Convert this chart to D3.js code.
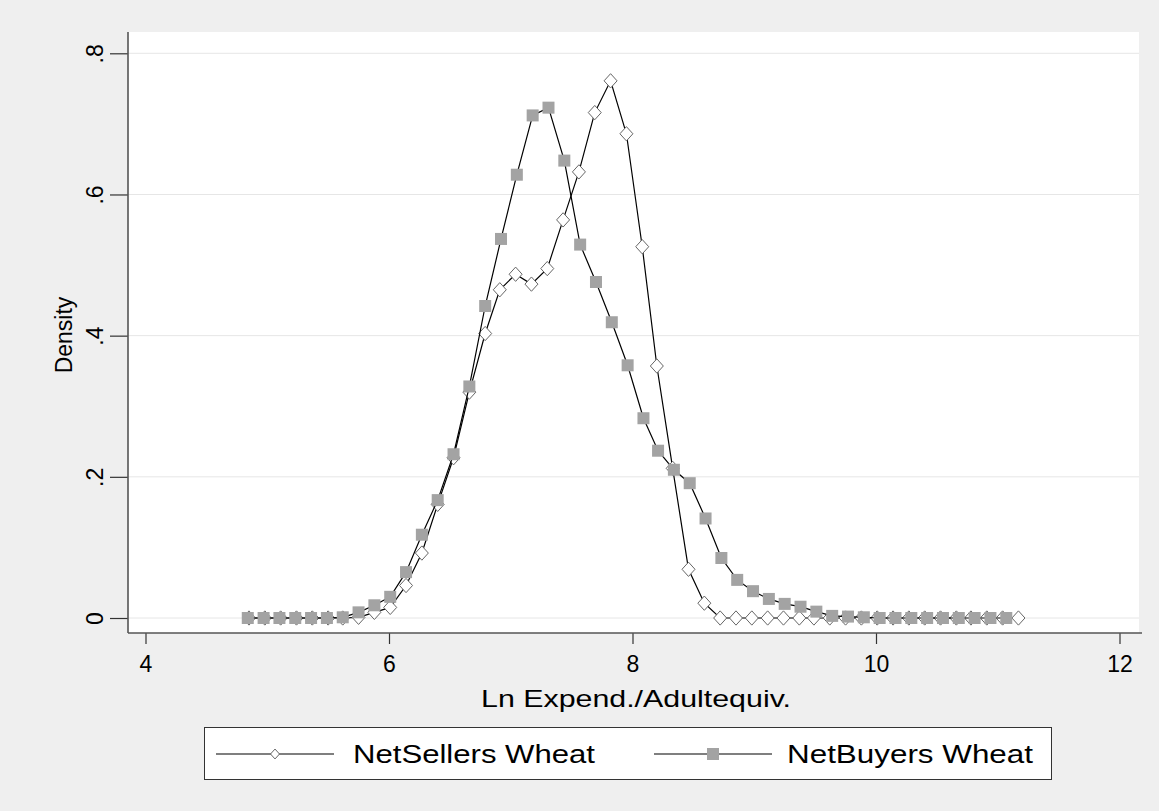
<!DOCTYPE html>
<html><head><meta charset="utf-8">
<script src="https://cdn.jsdelivr.net/npm/d3@7"></script>
<style>html,body{margin:0;padding:0;background:#efefef;}svg{display:block;}</style>
</head><body>
<svg id="chart" width="1159" height="811"></svg>
<script>
const sellersX = [4.85,4.98,5.11,5.24,5.37,5.50,5.62,5.75,5.88,6.01,6.14,6.27,6.40,6.53,6.66,6.79,6.91,7.04,7.17,7.30,7.43,7.56,7.69,7.82,7.95,8.08,8.20,8.33,8.46,8.59,8.72,8.85,8.98,9.11,9.24,9.37,9.49,9.62,9.75,9.88,10.01,10.14,10.27,10.40,10.53,10.66,10.78,10.91,11.04,11.17];
const sellersY = [0,0,0,0,0,0,0,0.001,0.008,0.015,0.046,0.092,0.161,0.227,0.320,0.403,0.465,0.487,0.473,0.495,0.564,0.632,0.716,0.761,0.686,0.526,0.357,0.212,0.069,0.021,0,0,0,0,0,0,0,0,0,0,0,0,0,0,0,0,0,0,0,0];
const buyersX = [4.84,4.97,5.10,5.23,5.36,5.49,5.62,5.75,5.88,6.01,6.14,6.27,6.40,6.53,6.66,6.79,6.92,7.05,7.18,7.31,7.44,7.57,7.70,7.83,7.96,8.09,8.21,8.34,8.47,8.60,8.73,8.86,8.99,9.12,9.25,9.38,9.51,9.64,9.77,9.90,10.03,10.16,10.29,10.42,10.55,10.68,10.81,10.94,11.07];
const buyersY = [0,0,0,0,0,0,0.001,0.008,0.018,0.030,0.065,0.118,0.167,0.232,0.328,0.442,0.537,0.628,0.712,0.723,0.648,0.529,0.476,0.419,0.358,0.283,0.237,0.210,0.191,0.141,0.085,0.054,0.038,0.027,0.020,0.016,0.009,0.003,0.002,0.001,0,0,0,0,0,0,0,0,0];
const xTicks = [4,6,8,10,12];
const yTicks = [0,0.2,0.4,0.6,0.8];
const yTickLabels = ["0",".2",".4",".6",".8"];
const seriesNames = ["NetSellers Wheat","NetBuyers Wheat"];
const xTitle = "Ln Expend./Adultequiv.";
const yTitle = "Density";

const svg = d3.select("#chart");
const W = 1159, H = 811;
svg.append("rect").attr("width", W).attr("height", H).attr("fill", "#efefef");

const plot = {left: 128, top: 32, right: 1139, bottom: 633};
const x = d3.scaleLinear().domain([4, 12]).range([145.5, 1119.5]);
const y = d3.scaleLinear().domain([0, 0.8]).range([618, 53.3]);

svg.append("rect").attr("x", plot.left).attr("y", plot.top)
  .attr("width", plot.right - plot.left).attr("height", plot.bottom - plot.top)
  .attr("fill", "#ffffff");

// gridlines
svg.append("g").selectAll("line").data(yTicks).join("line")
  .attr("x1", plot.left).attr("x2", plot.right)
  .attr("y1", d => y(d)).attr("y2", d => y(d))
  .attr("stroke", "#e6e6e6").attr("stroke-width", 1);

const font = "'Liberation Sans', Arial, sans-serif";

// y axis
const yAxis = d3.axisLeft(y).tickValues(yTicks).tickSize(18).tickFormat((d, i) => yTickLabels[i]);
const gy = svg.append("g").attr("transform", `translate(${plot.left},0)`).call(yAxis);
gy.select(".domain").remove();
gy.selectAll(".tick line").attr("stroke", "#333").attr("stroke-width", 1.2);
gy.selectAll(".tick text")
  .attr("font-family", font).attr("font-size", 23).attr("fill", "#000")
  .attr("text-anchor", "middle").attr("dy", 0).attr("x", 0)
  .attr("transform", "translate(-25,0) rotate(-90)");
svg.append("line").attr("x1", plot.left).attr("x2", plot.left)
  .attr("y1", plot.top).attr("y2", plot.bottom).attr("stroke", "#555").attr("stroke-width", 1.6);

// x axis
const xAxis = d3.axisBottom(x).tickValues(xTicks).tickSize(11).tickFormat(d3.format("d"));
const gx = svg.append("g").attr("transform", `translate(0,${plot.bottom})`).call(xAxis);
gx.select(".domain").remove();
gx.selectAll(".tick line").attr("stroke", "#333").attr("stroke-width", 1.2);
gx.selectAll(".tick text")
  .attr("font-family", font).attr("font-size", 23).attr("fill", "#000")
  .attr("y", 23).attr("dy", "0.71em");
svg.append("line").attr("x1", plot.left).attr("x2", plot.right + 3)
  .attr("y1", plot.bottom).attr("y2", plot.bottom).attr("stroke", "#555").attr("stroke-width", 1.6);

// titles
svg.append("text").attr("x", 636).attr("y", 707).attr("text-anchor", "middle")
  .attr("font-family", font).attr("font-size", 24).attr("fill", "#000")
  .attr("textLength", 310).attr("lengthAdjust", "spacingAndGlyphs").text(xTitle);
svg.append("text").attr("transform", "translate(72,335) rotate(-90)").attr("text-anchor", "middle")
  .attr("font-family", font).attr("font-size", 23).attr("fill", "#000").text(yTitle);

// series
const line = d3.line().x(d => x(d[0])).y(d => y(d[1]));
const sellers = sellersX.map((v, i) => [v, sellersY[i]]);
const buyers = buyersX.map((v, i) => [v, buyersY[i]]);

const diamond = (cx, cy, r) => `M${cx},${cy - r * 1.1}L${cx + r},${cy}L${cx},${cy + r * 1.1}L${cx - r},${cy}Z`;

svg.append("path").datum(sellers).attr("d", line).attr("fill", "none").attr("stroke", "#000").attr("stroke-width", 1.2);
svg.append("g").selectAll("path").data(sellers).join("path")
  .attr("d", d => diamond(x(d[0]), y(d[1]), 6.5))
  .attr("fill", "#fff").attr("stroke", "#666").attr("stroke-width", 1);

svg.append("path").datum(buyers).attr("d", line).attr("fill", "none").attr("stroke", "#000").attr("stroke-width", 1.2);
svg.append("g").selectAll("rect").data(buyers).join("rect")
  .attr("x", d => x(d[0]) - 6).attr("y", d => y(d[1]) - 6)
  .attr("width", 12).attr("height", 12).attr("fill", "#a3a3a3");

// legend
const lg = svg.append("g");
lg.append("rect").attr("x", 204.5).attr("y", 727.5).attr("width", 847).attr("height", 52)
  .attr("fill", "#fff").attr("stroke", "#333").attr("stroke-width", 1);
const ly = 754;
lg.append("line").attr("x1", 216).attr("x2", 334).attr("y1", ly).attr("y2", ly).attr("stroke", "#000").attr("stroke-width", 1.2);
lg.append("path").attr("d", diamond(275, ly, 4.5)).attr("fill", "#fff").attr("stroke", "#666");
lg.append("text").attr("x", 353).attr("y", ly + 9).attr("font-family", font).attr("font-size", 26)
  .attr("textLength", 242).attr("lengthAdjust", "spacingAndGlyphs").text(seriesNames[0]);
lg.append("line").attr("x1", 654).attr("x2", 772).attr("y1", ly).attr("y2", ly).attr("stroke", "#000").attr("stroke-width", 1.2);
lg.append("rect").attr("x", 707).attr("y", ly - 6).attr("width", 12).attr("height", 12).attr("fill", "#a3a3a3");
lg.append("text").attr("x", 787).attr("y", ly + 9).attr("font-family", font).attr("font-size", 26)
  .attr("textLength", 246).attr("lengthAdjust", "spacingAndGlyphs").text(seriesNames[1]);
</script>
</body></html>
